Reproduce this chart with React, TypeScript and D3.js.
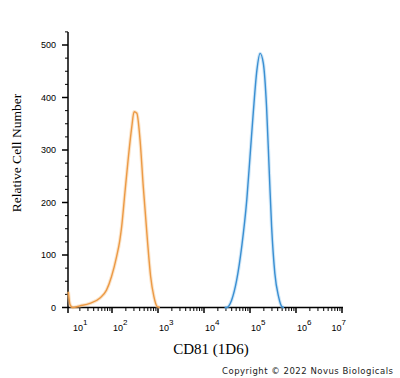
import React from "react";
import * as d3 from "d3";

// log10 of fluorescence intensity, relative cell count
const isotypeLog = [1.05, 1.09, 1.15, 1.30, 1.52, 1.74, 1.88, 1.99, 2.10, 2.17, 2.21, 2.28, 2.35, 2.43, 2.48, 2.54, 2.61, 2.68, 2.77, 2.84, 2.91, 2.98, 3.04];
const isotypeCount = [30, 5, 0, 3, 8, 18, 33, 59, 97, 128, 154, 218, 281, 344, 373, 370, 319, 230, 128, 59, 21, 2, 0];
const cd81Log = [4.45, 4.49, 4.60, 4.71, 4.82, 4.93, 5.00, 5.07, 5.15, 5.22, 5.29, 5.36, 5.42, 5.47, 5.54, 5.62, 5.69, 5.74];
const cd81Count = [0, 0, 14, 52, 116, 205, 287, 370, 452, 484, 465, 382, 256, 154, 65, 21, 2, 0];
const yTicks = [0, 100, 200, 300, 400, 500];
const xDecades = [1, 2, 3, 4, 5, 6, 7];

const W = 400, H = 378;

export default function App() {
  const x = d3.scaleLog().domain([Math.pow(10, 1.05), 1e7]).range([68.3, 342]);
  const y = d3.scaleLinear().domain([0, 500]).range([307.5, 45]);
  const line = d3.line<[number, number]>()
    .x(d => x(Math.pow(10, d[0])))
    .y(d => y(d[1]))
    .curve(d3.curveMonotoneX);
  const iso = line(isotypeLog.map((v, i) => [v, isotypeCount[i]] as [number, number])) || "";
  const cd = line(cd81Log.map((v, i) => [v, cd81Count[i]] as [number, number])) || "";

  const minorY = d3.range(25, 526, 25).filter(v => v % 100 !== 0);
  const minorX: number[] = [];
  for (let d = 1; d < 7; d++) for (let m = 2; m <= 9; m++) minorX.push(m * Math.pow(10, d));

  const sans = "Arial, 'Liberation Sans', sans-serif";
  const serif = "'Times New Roman', 'Liberation Serif', serif";

  return (
    <svg width={W} height={H} style={{ position: "absolute", left: 0, top: 0, background: "#fff" }}>
      {/* y axis */}
      <line x1={68} x2={68} y1={y(525)} y2={313} stroke="#000" strokeWidth={1.5} />
      {yTicks.map(t => (
        <g key={t}>
          <line x1={62} x2={68} y1={y(t)} y2={y(t)} stroke="#000" strokeWidth={1.5} />
          <text x={56} y={y(t) + 3} fontSize={9} fontFamily={sans} textAnchor="end">{t}</text>
        </g>
      ))}
      {minorY.map(t => (
        <line key={t} x1={65} x2={68} y1={y(t)} y2={y(t)} stroke="#000" strokeWidth={1} />
      ))}
      {/* x axis */}
      <line x1={68} x2={343} y1={307.5} y2={307.5} stroke="#000" strokeWidth={1.5} />
      {xDecades.map(d => {
        const px = x(Math.pow(10, d));
        const last = d === 7;
        return (
          <g key={d}>
            {d > 1 && <line x1={px} x2={px} y1={307.5} y2={313} stroke="#000" strokeWidth={1.5} />}
            <text x={last ? px + 4 : Math.max(px, 72) + 1} y={331} fontSize={9} fontFamily={sans} textAnchor={last ? "end" : "start"}>
              10<tspan dy={-6} fontSize={8}>{d}</tspan>
            </text>
          </g>
        );
      })}
      {minorX.map((v, i) => (
        <line key={i} x1={x(v)} x2={x(v)} y1={307.5} y2={311} stroke="#000" strokeWidth={1} />
      ))}
      {/* curves */}
      <path d={iso} fill="none" stroke="#f6c58f" strokeOpacity={0.45} strokeWidth={3.5} />
      <path d={iso} fill="none" stroke="#ec9a45" strokeWidth={1.4} />
      <path d={cd} fill="none" stroke="#9ccbf0" strokeOpacity={0.45} strokeWidth={3.5} />
      <path d={cd} fill="none" stroke="#3a8fd2" strokeWidth={1.4} />
      {/* titles */}
      <text transform="translate(21,153) rotate(-90)" textAnchor="middle" fontSize={13.5} fontFamily={serif}>Relative Cell Number</text>
      <text x={211} y={354} textAnchor="middle" fontSize={15} fontFamily={serif}>CD81 (1D6)</text>
      <text x={222} y={374} fontSize={8.5} fontFamily="'DejaVu Sans', sans-serif" textLength={171} fill="#222">Copyright © 2022 Novus Biologicals</text>
    </svg>
  );
}
